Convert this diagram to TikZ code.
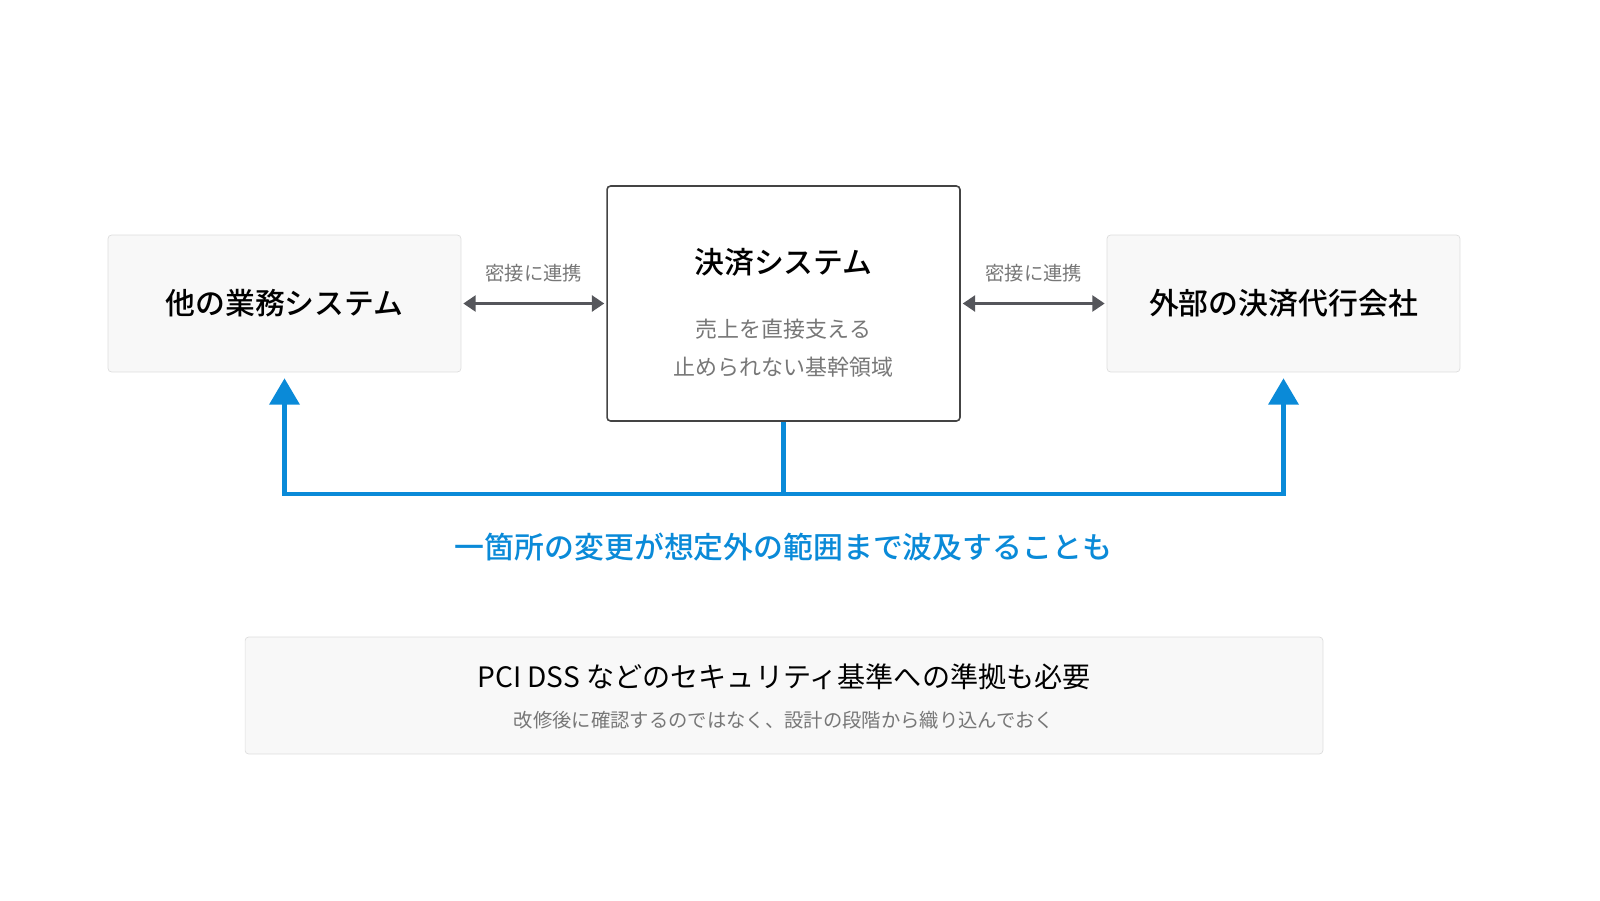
\documentclass[tikz,border=0pt]{standalone}
\usepackage{fontspec}
\setmainfont{Noto Sans CJK JP}[BoldFont={Noto Sans CJK JP Medium}]
\usetikzlibrary{arrows.meta,positioning,calc}
\definecolor{boxfill}{HTML}{F8F8F8}
\definecolor{boxline}{HTML}{DDDDDD}
\definecolor{darkline}{HTML}{444444}
\definecolor{linkgray}{HTML}{55565B}
\definecolor{subgray}{HTML}{777777}
\definecolor{niceblue}{HTML}{0A8AD8}
\tikzset{
    % Boxes
    side box/.style={draw=boxline,fill=boxfill,rounded corners=2pt,minimum width=7.06cm,minimum height=2.74cm,inner sep=0pt},
    core box/.style={draw=darkline,fill=white,rounded corners=2pt,line width=0.9pt,minimum width=7.06cm,minimum height=4.7cm,inner sep=0pt},
    note box/.style={draw=boxline,fill=boxfill,rounded corners=2pt,minimum width=21.56cm,minimum height=2.34cm,inner sep=0pt},
    title/.style={font=\bfseries\fontsize{17}{20}\selectfont},
    sub/.style={text=subgray,font=\fontsize{12.5}{21.5}\selectfont,align=center},
    % Arrows
    link/.style={{Triangle[length=7pt,width=9pt]}-{Triangle[length=7pt,width=9pt]},linkgray,line width=1.6pt},
    link label/.style={text=subgray,font=\fontsize{11}{12}\selectfont},
    spread/.style={-{Triangle[length=15pt,width=17pt]},niceblue,line width=2.4pt}
}
\begin{document}
\begin{tikzpicture}[x=0.02cm,y=-0.02cm]
    \useasboundingbox (0,0) rectangle (1600,900);
    \node[side box] (other) at (284.5,303.5) {};
    \node[title] at (284.5,303) {他の業務システム};
    \node[core box] (pay) at (783.5,303.5) {};
    \node[title] at (783.5,262) {決済システム};
    \node[sub] at (783.5,348) {売上を直接支える\\止められない基幹領域};
    \node[side box] (ext) at (1283.5,303.5) {};
    \node[title] at (1283.5,303) {外部の決済代行会社};
    %
    \draw[link] ($(other.east)+(2,0)$) -- ($(pay.west)+(-2,0)$) node[midway,above=8pt,link label] {密接に連携};
    \draw[link] ($(pay.east)+(2,0)$) -- ($(ext.west)+(-2,0)$) node[midway,above=8pt,link label] {密接に連携};
    %
    \coordinate (join) at (783.5,494);
    \draw[niceblue,line width=2.4pt] (pay.south) -- (join);
    \draw[spread] (join) -| ($(other.south)+(0,6)$);
    \draw[spread] (join) -| ($(ext.south)+(0,6)$);
    \node[text=niceblue,font=\bfseries\fontsize{17}{20}\selectfont] (spreadtext) at (783.5,547) {一箇所の変更が想定外の範囲まで波及することも};
    %
    \node[note box] (dss) at (784,695.5) {};
    \node[font=\fontsize{16}{18}\selectfont] at (784,677) {PCI DSS などのセキュリティ基準への準拠も必要};
    \node[link label] at (784,720) {改修後に確認するのではなく、設計の段階から織り込んでおく};
\end{tikzpicture}
\end{document}
